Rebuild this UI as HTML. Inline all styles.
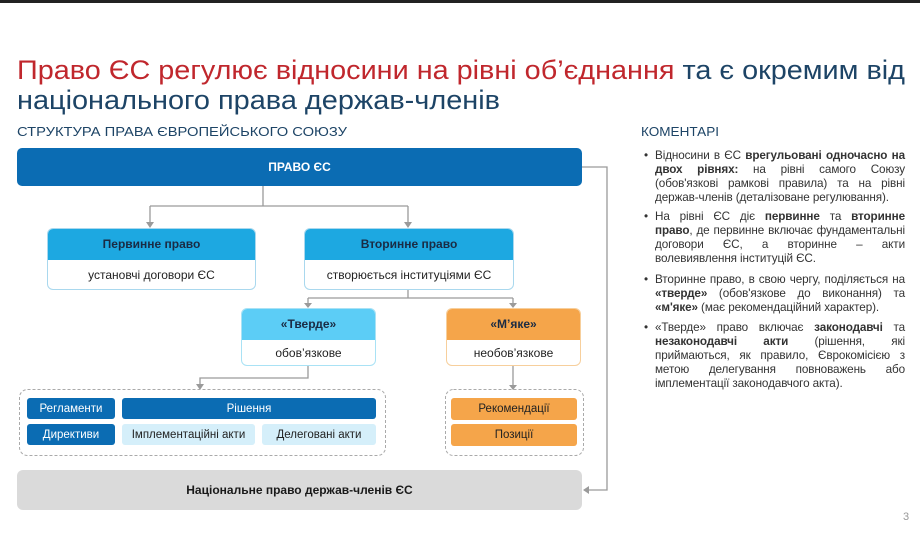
<!DOCTYPE html>
<html><head><meta charset="utf-8"><style>
*{margin:0;padding:0;box-sizing:border-box}
body{width:920px;height:552px;background:#fff;position:relative;overflow:hidden;font-family:"Liberation Sans","Noto Sans CJK SC",sans-serif}
.a{position:absolute}
.box{position:absolute;display:flex;align-items:center;justify-content:center;font-size:11.5px;text-align:center}
.b{font-weight:bold}
.card{position:absolute;border-radius:6px;overflow:hidden;background:#fff}
.card .h{height:32px;display:flex;align-items:center;justify-content:center;font-weight:bold;font-size:12px;color:#1a2b44}
.card .t{height:30px;display:flex;align-items:center;justify-content:center;font-size:12px;color:#222}
.com{position:absolute;left:655px;width:250px;font-size:11.7px;line-height:14px;color:#333;text-align:justify;letter-spacing:-0.1px}
.com:before{content:"•";position:absolute;left:-11px;top:0}
</style></head><body>
<div class="a" style="left:0;top:0;width:920px;height:3px;background:#222"></div>
<svg class="a" style="left:0;top:0" width="920" height="552">
<text x="17" y="79" font-size="27" textLength="888" lengthAdjust="spacingAndGlyphs" font-family="Liberation Sans, sans-serif"><tspan fill="#c0272d">Право ЄС регулює відносини на рівні об’єднання</tspan><tspan fill="#1d4466"> та є окремим від</tspan></text>
<text x="17" y="109" font-size="27" textLength="483" lengthAdjust="spacingAndGlyphs" fill="#1d4466" font-family="Liberation Sans, sans-serif">національного права держав-членів</text>
<text x="17" y="136" font-size="12.5" textLength="330" lengthAdjust="spacingAndGlyphs" fill="#1d4466" font-family="Liberation Sans, sans-serif">СТРУКТУРА ПРАВА ЄВРОПЕЙСЬКОГО СОЮЗУ</text>
<text x="641" y="136" font-size="13" textLength="78" lengthAdjust="spacingAndGlyphs" fill="#1d4466" font-family="Liberation Sans, sans-serif">КОМЕНТАРІ</text>
<g stroke="#9a9a9a" stroke-width="1.3" fill="none">
<path d="M263 186V206M150 206H408M150 206V224M408 206V224"/>
<path d="M408 290V298M308 298H513M308 298V305M513 298V305"/>
<path d="M308 366V378H200V386M513 366V387"/>
<path d="M582 167H607V490H588"/>
</g>
<g fill="#9a9a9a">
<path d="M146 222H154L150 228Z M404 222H412L408 228Z M304 303H312L308 308Z M509 303H517L513 308Z M196 384H204L200 390Z M509 385H517L513 390Z M589 486V494L583 490Z"/>
</g>
<rect x="19.5" y="389.5" width="366" height="66" rx="8" fill="none" stroke="#aaa" stroke-dasharray="3 2"/>
<rect x="445.5" y="389.5" width="138" height="66" rx="8" fill="none" stroke="#aaa" stroke-dasharray="3 2"/>
</svg>
<div class="box b" style="left:17px;top:148px;width:565px;height:38px;background:#0b6cb3;color:#fff;border-radius:5px;font-size:12px">ПРАВО ЄС</div>
<div class="card" style="left:47px;top:228px;width:209px;height:62px;border:1px solid #a9d8ee"><div class="h" style="background:#1da8e1;margin:-1px -1px 0">Первинне право</div><div class="t">установчі договори ЄС</div></div>
<div class="card" style="left:304px;top:228px;width:210px;height:62px;border:1px solid #a9d8ee"><div class="h" style="background:#1da8e1;margin:-1px -1px 0">Вторинне право</div><div class="t">створюється інституціями ЄС</div></div>
<div class="card" style="left:241px;top:308px;width:135px;height:58px;border:1px solid #a9e2f5"><div class="h" style="background:#5ccdf6;margin:-1px -1px 0">«Тверде»</div><div class="t" style="height:26px">обов’язкове</div></div>
<div class="card" style="left:446px;top:308px;width:135px;height:58px;border:1px solid #f7cf9c"><div class="h" style="background:#f5a54a;margin:-1px -1px 0">«М’яке»</div><div class="t" style="height:26px">необов’язкове</div></div>
<div class="box" style="left:27px;top:398px;width:88px;height:21px;background:#0b6cb3;color:#fff;border-radius:3px">Регламенти</div>
<div class="box" style="left:122px;top:398px;width:254px;height:21px;background:#0b6cb3;color:#fff;border-radius:3px">Рішення</div>
<div class="box" style="left:27px;top:424px;width:88px;height:21px;background:#0b6cb3;color:#fff;border-radius:3px">Директиви</div>
<div class="box" style="left:122px;top:424px;width:133px;height:21px;background:#d5effa;color:#222;border-radius:3px">Імплементаційні акти</div>
<div class="box" style="left:262px;top:424px;width:114px;height:21px;background:#d5effa;color:#222;border-radius:3px">Делеговані акти</div>
<div class="box" style="left:451px;top:398px;width:126px;height:22px;background:#f5a54a;color:#222;border-radius:3px">Рекомендації</div>
<div class="box" style="left:451px;top:424px;width:126px;height:22px;background:#f5a54a;color:#222;border-radius:3px">Позиції</div>
<div class="box b" style="left:17px;top:470px;width:565px;height:40px;background:#dadada;color:#1a1a1a;border-radius:6px;font-size:12px">Національне право держав-членів ЄС</div>
<div class="com" style="top:149px">Відносини в ЄС <b>врегульовані одночасно на двох рівнях:</b> на рівні самого Союзу (обов'язкові рамкові правила) та на рівні держав-членів (деталізоване регулювання).</div>
<div class="com" style="top:210px">На рівні ЄС діє <b>первинне</b> та <b>вторинне право</b>, де первинне включає фундаментальні договори ЄС, а вторинне – акти волевиявлення інституцій ЄС.</div>
<div class="com" style="top:273px">Вторинне право, в свою чергу, поділяється на <b>«тверде»</b> (обов'язкове до виконання) та <b>«м'яке»</b> (має рекомендаційний характер).</div>
<div class="com" style="top:321px">«Тверде» право включає <b>законодавчі</b> та <b>незаконодавчі акти</b> (рішення, які приймаються, як правило, Єврокомісією з метою делегування повноважень або імплементації законодавчого акта).</div>
<div class="a" style="left:903px;top:511px;font-size:11px;color:#999">3</div>
</body></html>
